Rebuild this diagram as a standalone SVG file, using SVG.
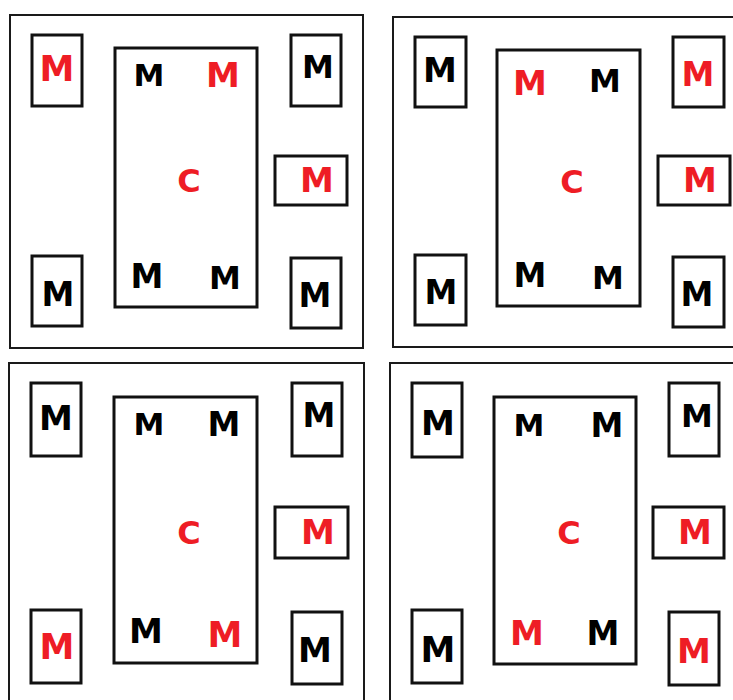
<svg xmlns="http://www.w3.org/2000/svg" width="733" height="700" viewBox="0 0 733 700">
<style>
.frame{fill:none;stroke:#1a1a1a;stroke-width:2}
.box{fill:none;stroke:#111;stroke-width:3}
text{font-family:"DejaVu Sans",Verdana,sans-serif;font-weight:bold;text-anchor:middle}
.k{fill:#000}
.r{fill:#ee1d25}
.c{font-size:32px}
</style>
<rect width="733" height="700" fill="#fff"/>
<g id="connectors"/>
<!-- Panel 1 -->
<g id="panel1">
<rect class="frame" x="10" y="15" width="353" height="333"/>
<g id="p1-c"><rect class="box" x="115" y="48" width="142" height="259"/>
<text class="r c" x="189" y="192">C</text>
<text class="k" x="149" y="86" font-size="31">M</text>
<text class="r" x="223" y="87" font-size="34">M</text>
<text class="k" x="147" y="288" font-size="33">M</text>
<text class="k" x="225" y="289" font-size="32">M</text></g>
<g id="p1-m1"><rect class="box" x="32" y="35" width="50" height="71"/><text class="r" x="57" y="81" font-size="35">M</text></g>
<g id="p1-m2"><rect class="box" x="291" y="35" width="50" height="71"/><text class="k" x="318" y="78" font-size="32">M</text></g>
<g id="p1-m3"><rect class="box" x="275" y="156" width="72" height="49"/><text class="r" x="317" y="192" font-size="34">M</text></g>
<g id="p1-m4"><rect class="box" x="32" y="256" width="50" height="70"/><text class="k" x="58" y="306" font-size="33">M</text></g>
<g id="p1-m5"><rect class="box" x="291" y="258" width="50" height="70"/><text class="k" x="315" y="307" font-size="33">M</text></g>
</g>
<!-- Panel 2 -->
<g id="panel2">
<rect class="frame" x="393" y="17" width="360" height="330"/>
<g id="p2-c"><rect class="box" x="497" y="50" width="143" height="256"/>
<text class="r c" x="572" y="193">C</text>
<text class="r" x="530" y="95" font-size="34">M</text>
<text class="k" x="605" y="92" font-size="32">M</text>
<text class="k" x="530" y="287" font-size="33">M</text>
<text class="k" x="608" y="289" font-size="32">M</text></g>
<g id="p2-m1"><rect class="box" x="415" y="37" width="51" height="70"/><text class="k" x="440" y="82" font-size="34">M</text></g>
<g id="p2-m2"><rect class="box" x="673" y="37" width="51" height="70"/><text class="r" x="698" y="86" font-size="33">M</text></g>
<g id="p2-m3"><rect class="box" x="658" y="156" width="72" height="49"/><text class="r" x="700" y="192" font-size="34">M</text></g>
<g id="p2-m4"><rect class="box" x="415" y="255" width="51" height="70"/><text class="k" x="441" y="304" font-size="33">M</text></g>
<g id="p2-m5"><rect class="box" x="673" y="257" width="51" height="70"/><text class="k" x="697" y="306" font-size="33">M</text></g>
</g>
<!-- Panel 3 -->
<g id="panel3">
<rect class="frame" x="9" y="363" width="355" height="350"/>
<g id="p3-c"><rect class="box" x="114" y="397" width="143" height="266"/>
<text class="r c" x="189" y="544">C</text>
<text class="k" x="149" y="435" font-size="31">M</text>
<text class="k" x="224" y="436" font-size="33">M</text>
<text class="k" x="146" y="643" font-size="34">M</text>
<text class="r" x="225" y="647" font-size="35">M</text></g>
<g id="p3-m1"><rect class="box" x="31" y="383" width="50" height="73"/><text class="k" x="56" y="430" font-size="34">M</text></g>
<g id="p3-m2"><rect class="box" x="292" y="383" width="50" height="73"/><text class="k" x="319" y="427" font-size="33">M</text></g>
<g id="p3-m3"><rect class="box" x="275" y="507" width="73" height="51"/><text class="r" x="318" y="544" font-size="34">M</text></g>
<g id="p3-m4"><rect class="box" x="31" y="610" width="50" height="73"/><text class="r" x="57" y="659" font-size="35">M</text></g>
<g id="p3-m5"><rect class="box" x="292" y="612" width="50" height="72"/><text class="k" x="315" y="662" font-size="34">M</text></g>
</g>
<!-- Panel 4 -->
<g id="panel4">
<rect class="frame" x="390" y="363" width="363" height="350"/>
<g id="p4-c"><rect class="box" x="494" y="397" width="142" height="267"/>
<text class="r c" x="569" y="544">C</text>
<text class="k" x="529" y="436" font-size="31">M</text>
<text class="k" x="607" y="437" font-size="33">M</text>
<text class="r" x="527" y="645" font-size="34">M</text>
<text class="k" x="603" y="645" font-size="33">M</text></g>
<g id="p4-m1"><rect class="box" x="412" y="383" width="50" height="74"/><text class="k" x="438" y="435" font-size="34">M</text></g>
<g id="p4-m2"><rect class="box" x="669" y="383" width="50" height="73"/><text class="k" x="697" y="427" font-size="32">M</text></g>
<g id="p4-m3"><rect class="box" x="653" y="507" width="71" height="51"/><text class="r" x="695" y="544" font-size="34">M</text></g>
<g id="p4-m4"><rect class="box" x="412" y="610" width="50" height="73"/><text class="k" x="438" y="662" font-size="35">M</text></g>
<g id="p4-m5"><rect class="box" x="669" y="612" width="50" height="73"/><text class="r" x="694" y="663" font-size="34">M</text></g>
</g>
</svg>
